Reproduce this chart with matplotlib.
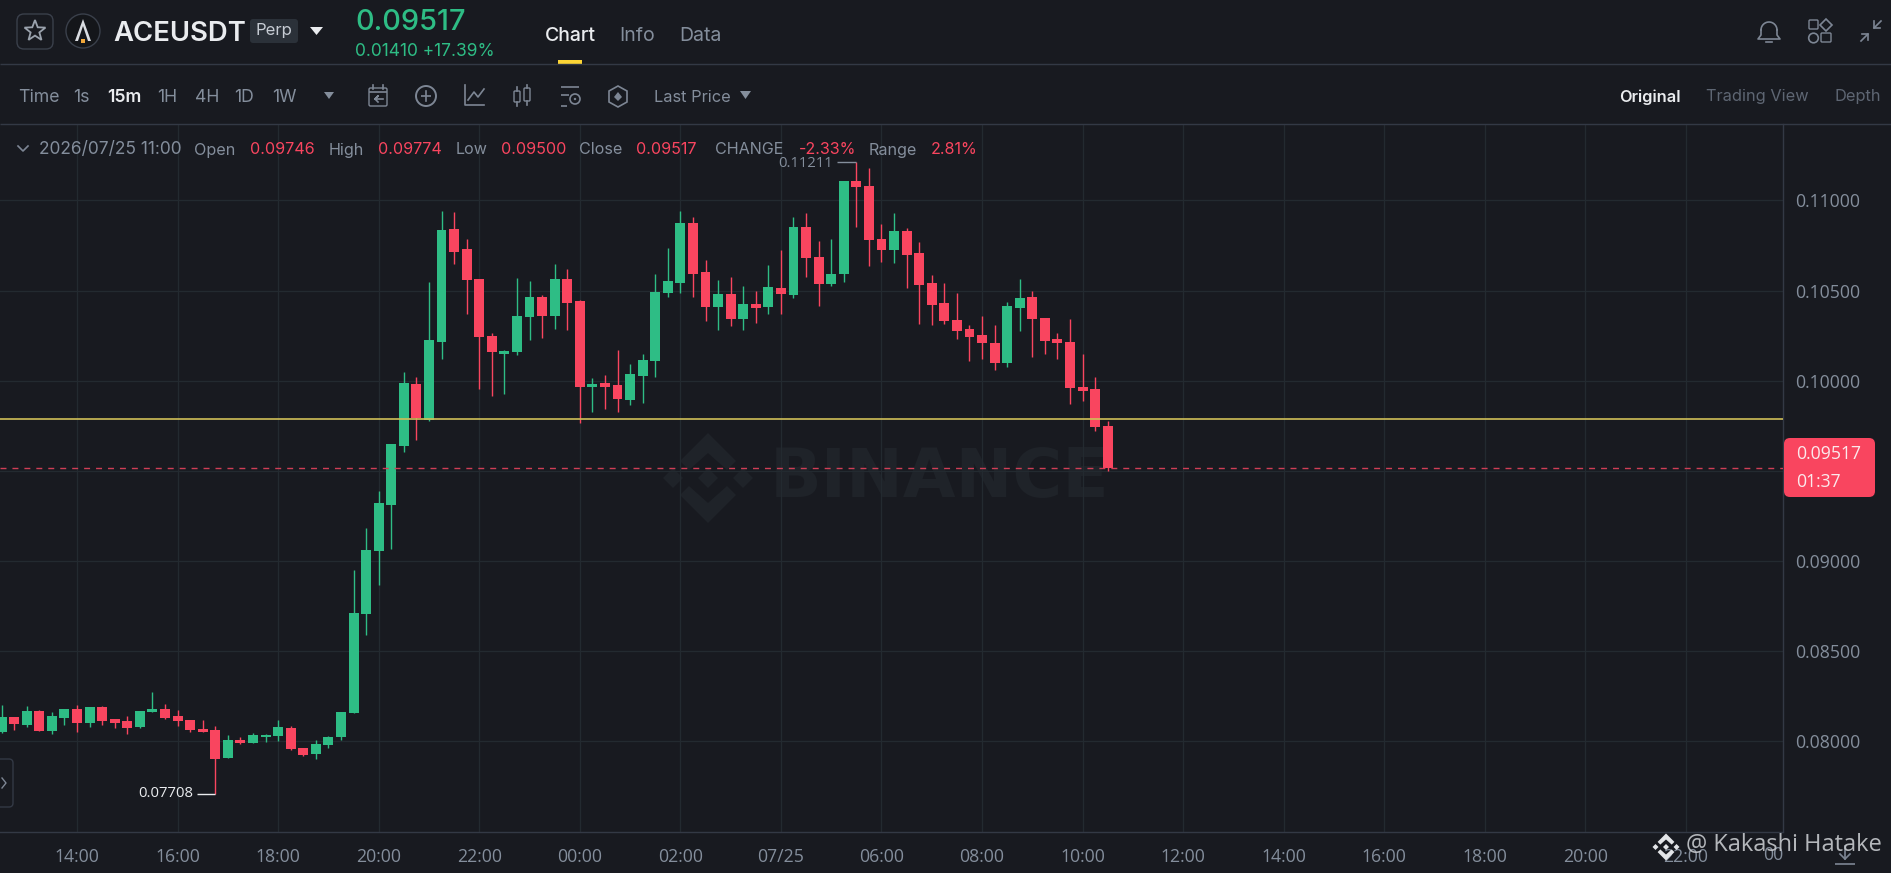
import numpy as np
import matplotlib
matplotlib.use("Agg")
import matplotlib.pyplot as plt
from matplotlib.patches import Circle, FancyBboxPatch, Polygon, Rectangle

W, H = 1891, 873
BG = "#181a20"
GRID = "#232a30"
BORDER = "#333945"
GREEN = "#2ebd85"
RED = "#f9455f"
GRAY = "#848e9c"
ICON = "#7d8694"
WHITE = "#eaecef"
YELLOW = "#cfbf58"
MARK = "#1f2329"
AXIS_FONT = ["Open Sans", "DejaVu Sans"]

plt.rcParams["font.family"] = ["Inter", "DejaVu Sans"]

# ---------------------------------------------------------------------------
# Data (15m candles, first one is 12:30)
# ---------------------------------------------------------------------------
opens = [
    0.08052, 0.08131, 0.08091, 0.08167, 0.08055, 0.08128, 0.08179, 0.08102, 0.08189, 0.08120,
    0.08111, 0.08076, 0.08159, 0.08176, 0.08139, 0.08118, 0.08067, 0.08061, 0.07904, 0.08006,
    0.07991, 0.08020, 0.08026, 0.08072, 0.07963, 0.07928, 0.07976, 0.08020, 0.08154, 0.08707,
    0.09055, 0.09310, 0.09639, 0.09981, 0.09782, 0.10216, 0.10840, 0.10729, 0.10564, 0.10248,
    0.10150, 0.10157, 0.10355, 0.10462, 0.10359, 0.10562, 0.10444, 0.09965, 0.09987, 0.09974,
    0.09891, 0.10028, 0.10107, 0.10485, 0.10540, 0.10873, 0.10603, 0.10411, 0.10481, 0.10342,
    0.10427, 0.10407, 0.10516, 0.10477, 0.10855, 0.10688, 0.10538, 0.10594, 0.11106, 0.11080,
    0.10788, 0.10725, 0.10832, 0.10707, 0.10540, 0.10429, 0.10337, 0.10285, 0.10251, 0.10211,
    0.10100, 0.10405, 0.10462, 0.10350, 0.10229, 0.10216, 0.09967, 0.09954, 0.09746,
]
highs = [
    0.08200, 0.08131, 0.08194, 0.08172, 0.08159, 0.08179, 0.08198, 0.08191, 0.08194, 0.08120,
    0.08141, 0.08167, 0.08274, 0.08205, 0.08170, 0.08118, 0.08115, 0.08083, 0.08031, 0.08020,
    0.08046, 0.08039, 0.08118, 0.08081, 0.07963, 0.08004, 0.08028, 0.08163, 0.08947, 0.09180,
    0.09388, 0.09647, 0.10050, 0.10022, 0.10546, 0.10940, 0.10938, 0.10784, 0.10564, 0.10266,
    0.10168, 0.10568, 0.10553, 0.10473, 0.10647, 0.10618, 0.10448, 0.10015, 0.10029, 0.10170,
    0.10094, 0.10150, 0.10592, 0.10736, 0.10940, 0.10908, 0.10670, 0.10559, 0.10573, 0.10523,
    0.10498, 0.10644, 0.10725, 0.10906, 0.10929, 0.10777, 0.10788, 0.11106, 0.11211, 0.11180,
    0.10869, 0.10930, 0.10847, 0.10771, 0.10588, 0.10540, 0.10486, 0.10309, 0.10357, 0.10307,
    0.10436, 0.10564, 0.10498, 0.10350, 0.10263, 0.10342, 0.10150, 0.10022, 0.09774,
]
lows = [
    0.08046, 0.08061, 0.08076, 0.08055, 0.08037, 0.08091, 0.08050, 0.08078, 0.08087, 0.08070,
    0.08039, 0.08072, 0.08159, 0.08122, 0.08085, 0.08052, 0.08050, 0.07708, 0.07904, 0.07985,
    0.07991, 0.07994, 0.08002, 0.07952, 0.07919, 0.07900, 0.07963, 0.08006, 0.08154, 0.08586,
    0.08866, 0.09064, 0.09604, 0.09671, 0.09778, 0.10118, 0.10649, 0.10368, 0.09955, 0.09917,
    0.09928, 0.10144, 0.10227, 0.10239, 0.10287, 0.10283, 0.09767, 0.09826, 0.09843, 0.09826,
    0.09863, 0.09876, 0.10022, 0.10462, 0.10486, 0.10466, 0.10329, 0.10279, 0.10305, 0.10281,
    0.10320, 0.10370, 0.10372, 0.10461, 0.10577, 0.10412, 0.10525, 0.10546, 0.10855, 0.10636,
    0.10658, 0.10655, 0.10514, 0.10316, 0.10309, 0.10316, 0.10233, 0.10107, 0.10122, 0.10059,
    0.10074, 0.10276, 0.10129, 0.10150, 0.10122, 0.09872, 0.09887, 0.09722, 0.09500,
]
closes = [
    0.08131, 0.08092, 0.08168, 0.08055, 0.08137, 0.08179, 0.08102, 0.08191, 0.08111, 0.08102,
    0.08072, 0.08167, 0.08176, 0.08130, 0.08113, 0.08059, 0.08050, 0.07902, 0.08004, 0.07989,
    0.08033, 0.08035, 0.08076, 0.07956, 0.07924, 0.07981, 0.08024, 0.08163, 0.08712, 0.09060,
    0.09323, 0.09647, 0.09987, 0.09793, 0.10224, 0.10836, 0.10716, 0.10560, 0.10244, 0.10161,
    0.10165, 0.10361, 0.10462, 0.10357, 0.10562, 0.10433, 0.09965, 0.09981, 0.09965, 0.09898,
    0.10035, 0.10116, 0.10494, 0.10551, 0.10873, 0.10590, 0.10409, 0.10481, 0.10342, 0.10425,
    0.10401, 0.10518, 0.10479, 0.10855, 0.10683, 0.10538, 0.10594, 0.11106, 0.11075, 0.10781,
    0.10725, 0.10832, 0.10695, 0.10533, 0.10420, 0.10331, 0.10276, 0.10244, 0.10209, 0.10100,
    0.10416, 0.10457, 0.10342, 0.10222, 0.10207, 0.09961, 0.09944, 0.09741, 0.09517,
]
time_labels = ["14:00", "16:00", "18:00", "20:00", "22:00", "00:00", "02:00", "07/25", "06:00",
               "08:00", "10:00", "12:00", "14:00", "16:00", "18:00", "20:00", "22:00"]
price_ticks = [0.08, 0.085, 0.09, 0.095, 0.10, 0.105, 0.11]
level_line = 0.09787
last_price = 0.09517
top_row = ["Time", "1s", "15m", "1H", "4H", "1D", "1W"]
top_row_x = [18, 73, 107, 157, 195, 234, 272]
info_row = [("2026/07/25 11:00", 39, GRAY), ("Open", 194, GRAY), ("0.09746", 250, RED),
            ("High", 329, GRAY), ("0.09774", 378, RED), ("Low", 456, GRAY), ("0.09500", 501, RED),
            ("Close", 579, GRAY), ("0.09517", 636, RED), ("CHANGE", 715, GRAY),
            ("-2.33%", 799, RED), ("Range", 869, GRAY), ("2.81%", 931, RED)]

# ---------------------------------------------------------------------------
# Figure + axes: back layer (watermark), chart, front layer (page chrome)
# ---------------------------------------------------------------------------
fig = plt.figure(figsize=(W / 100, H / 100), dpi=100, facecolor=BG)


def pixel_axes(zorder):
    a = fig.add_axes([0, 0, 1, 1], zorder=zorder)
    a.set_xlim(0, W)
    a.set_ylim(H, 0)
    a.axis("off")
    return a


back = pixel_axes(0)
top = pixel_axes(5)

CHART_L, CHART_R, CHART_T, CHART_B = 0, 1783, 124, 831.5
ax = fig.add_axes([CHART_L / W, 1 - CHART_B / H, (CHART_R - CHART_L) / W, (CHART_B - CHART_T) / H], zorder=2)
ax.patch.set_alpha(0)

STEP, X0 = 12.57, 1.58
ax.set_xlim((CHART_L - X0) / STEP, (CHART_R - X0) / STEP)
ax.set_ylim(0.08 + (741 - CHART_B) / 18020, 0.08 + (741 - CHART_T) / 18020)

# ---------------------------------------------------------------------------
# Candles
# ---------------------------------------------------------------------------
o, h, l, c = map(np.array, (opens, highs, lows, closes))
xs = np.arange(len(o))
colors = np.where(c >= o, GREEN, RED)
ax.vlines(xs, l, h, colors=colors, linewidth=1.0, zorder=3)
ax.bar(xs, np.abs(c - o), bottom=np.minimum(o, c), width=0.79, color=colors, linewidth=0, zorder=3)

ax.axhline(level_line, color=YELLOW, linewidth=1.2, zorder=4)
ax.axhline(last_price, color="#cf3e56", linewidth=1.0, linestyle=(0, (4.3, 4.3)), zorder=4)

# axes
tick_pos = 6 + 8 * np.arange(len(time_labels))
ax.set_xticks(tick_pos, time_labels, family=AXIS_FONT)
ax.set_yticks(price_ticks, [f"{p:.5f}" for p in price_ticks], family=AXIS_FONT)
ax.yaxis.tick_right()
ax.tick_params(axis="x", length=0, pad=12, labelsize=12.7, labelcolor=GRAY)
ax.tick_params(axis="y", length=0, pad=8.5, labelsize=12.7, labelcolor=GRAY)
ax.grid(True, color=GRID, linewidth=0.9, zorder=1)
ax.set_axisbelow(True)
for side, spine in ax.spines.items():
    spine.set_visible(side in ("bottom", "right"))
    spine.set_color(BORDER)
    spine.set_linewidth(1.0)

# high / low callouts
i_hi, i_lo = int(np.argmax(h)), int(np.argmin(l))
ax.annotate(f"{h[i_hi]:.5f}", (i_hi, h[i_hi]), xytext=(-23, -1), textcoords="offset pixels",
            color=GRAY, fontsize=10.7, ha="right", va="center", zorder=4, family=AXIS_FONT)
ax.annotate(f"{l[i_lo]:.5f}", (i_lo, l[i_lo]), xytext=(-22, 0), textcoords="offset pixels",
            color=WHITE, fontsize=10.7, ha="right", va="center", zorder=4, family=AXIS_FONT)
ax.hlines(h[i_hi], i_hi - 1.5, i_hi, color=GRAY, linewidth=1.0, zorder=4)
ax.hlines(l[i_lo], i_lo - 1.45, i_lo, color=WHITE, linewidth=1.0, zorder=4)


# ---------------------------------------------------------------------------
# Watermark
# ---------------------------------------------------------------------------
def binance_logo(a, cx, cy, s, color, zorder=1):
    """Binance diamond logo, s=1 is 90 px tall."""
    for dx in (-35, 0, 35):
        a.add_patch(Polygon([(cx + dx * s - 10 * s, cy), (cx + dx * s, cy - 10 * s),
                             (cx + dx * s + 10 * s, cy), (cx + dx * s, cy + 10 * s)],
                            color=color, lw=0, zorder=zorder))
    for sign in (-1, 1):
        pts = [(0, 45), (28, 17), (19, 8), (0, 25), (-19, 8), (-28, 17)]
        a.add_patch(Polygon([(cx + px * s, cy + sign * py * s) for px, py in pts],
                            color=color, lw=0, zorder=zorder))


binance_logo(back, 708, 478, 1, MARK)
back.text(770, 478, "BINANCE", color=MARK, fontsize=49, fontweight="bold", va="center", ha="left",
          family="DejaVu Sans")


# ---------------------------------------------------------------------------
# Page chrome
# ---------------------------------------------------------------------------
def txt(x, y, s, size=11, color=GRAY, ha="left", weight="normal", family=None):
    top.text(x, y, s, fontsize=size, color=color, ha=ha, va="center", fontweight=weight,
             family=family or ["Inter", "DejaVu Sans"])


def hline(x0, x1, y, color=ICON, lw=1.2):
    top.plot([x0, x1], [y, y], color=color, lw=lw, solid_capstyle="butt")


def poly(pts, color=ICON, fill=False, lw=1.2):
    top.add_patch(Polygon(pts, closed=True, fill=fill, facecolor=color if fill else "none",
                          edgecolor=color, lw=lw if not fill else 0))


def rbox(x0, y0, x1, y1, r, fc="none", ec=ICON, lw=1.0, a=None):
    (a or top).add_patch(FancyBboxPatch((x0 + r, y0 + r), x1 - x0 - 2 * r, y1 - y0 - 2 * r,
                                        boxstyle=f"round,pad={r}", fc=fc, ec=ec, lw=lw))


hline(0, W, 64, BORDER, 1.0)
hline(0, W, 124, BORDER, 1.0)

# title bar
rbox(17, 14, 53, 49, 7, ec="#3a404b")
star = [(35 + r * np.sin(t), 31 - r * np.cos(t)) for t, r in zip(np.arange(10) * np.pi / 5, [11, 4.6] * 5)]
poly(star, "#9aa2ad", lw=1.3)
top.add_patch(Circle((83, 31), 17, fc="#14161a", ec="#3a404b", lw=1))
poly([(83, 19), (75, 41), (78, 41), (83, 26), (88, 41), (91, 41)], "#d9dce1", fill=True)
poly([(81, 39), (85, 39), (85, 43), (81, 43)], "#f0a73a", fill=True)
txt(113, 34, "ACEUSDT", 19.8, WHITE, weight="semibold")
rbox(250, 19, 298, 43, 3, fc="#2b3139", ec="none")
txt(274, 31, "Perp", 12, "#c7ccd4", ha="center")
poly([(310, 27), (323, 27), (316.5, 35)], WHITE, fill=True)
txt(355, 23, "0.09517", 20.8, GREEN, weight="medium")
txt(355, 52, "0.01410 +17.39%", 12.5, GREEN)
txt(545, 36, "Chart", 14, WHITE, weight="medium")
top.add_patch(Rectangle((558, 60), 24, 4, color="#fcd535", lw=0))
txt(619, 36, "Info", 14, GRAY)
txt(679, 36, "Data", 14, GRAY)

# bell, layout and collapse icons
top.plot(1769 + 8 * np.cos(np.linspace(0, np.pi, 20)), 30 - 8 * np.sin(np.linspace(0, np.pi, 20)), color=ICON, lw=1.2)
top.plot([1761, 1761, 1758, 1780, 1777, 1777], [30, 35, 39, 39, 35, 30], color=ICON, lw=1.2)
top.plot([1766, 1772], [42, 42], color=ICON, lw=1.2)
rbox(1809, 20, 1818, 29, 1)
poly([(1826, 19), (1832, 25), (1826, 31), (1820, 25)])
top.add_patch(Circle((1813.5, 38), 4.8, fc="none", ec=ICON, lw=1.2))
rbox(1821, 33, 1831, 42, 1)
top.plot([1881, 1874], [21, 28], color=ICON, lw=1.2)
top.plot([1874, 1874, 1880], [21, 28, 28], color=ICON, lw=1.2)
top.plot([1861, 1868], [41, 34], color=ICON, lw=1.2)
top.plot([1862, 1868, 1868], [34, 34, 40], color=ICON, lw=1.2)

# toolbar
for s, x in zip(top_row, top_row_x):
    txt(x, 97, s, 12.7, WHITE if s == "15m" else GRAY, weight="semibold" if s == "15m" else "normal")
poly([(324, 92), (334, 92), (329, 99)], GRAY, fill=True)
rbox(369, 88, 387, 106, 1.5)
hline(369, 387, 92)
top.plot([373, 373], [85, 89], color=ICON, lw=1.2)
top.plot([383, 383], [85, 89], color=ICON, lw=1.2)
top.plot([383, 375, 378, 375, 378], [99, 99, 96, 99, 102], color=ICON, lw=1.2)
top.add_patch(Circle((426, 96), 10, fc="none", ec=ICON, lw=1.4))
hline(421, 431, 96)
top.plot([426, 426], [91, 101], color=ICON, lw=1.2)
top.plot([465, 465, 484], [85, 105, 105], color=ICON, lw=1.2)
top.plot([468, 474, 478, 484], [100, 92, 97, 89], color=ICON, lw=1.2)
for bx, y0, y1, t0, t1 in [(517, 91, 102, 87, 106), (527, 88, 101, 85, 105)]:
    rbox(bx - 3, y0, bx + 3, y1, 1)
    top.plot([bx, bx], [t0, y0], color=ICON, lw=1.2)
    top.plot([bx, bx], [y1, t1], color=ICON, lw=1.2)
hline(561, 579, 87)
hline(561, 569, 95)
hline(561, 567, 106)
top.add_patch(Circle((575, 99), 5, fc="none", ec=ICON, lw=1.2))
top.add_patch(Circle((575, 99), 1.2, fc=ICON, ec="none"))
poly([(618, 86), (627, 91), (627, 102), (618, 107), (609, 102), (609, 91)], lw=1.2)
poly([(618, 92), (622, 97), (618, 101), (614, 97)], ICON, fill=True)
txt(654, 97, "Last Price", 11.8, GRAY)
poly([(740, 91), (751, 91), (745.5, 99)], GRAY, fill=True)
txt(1619, 97, "Original", 11.8, WHITE, weight="semibold")
txt(1706, 97, "Trading View", 11.8, "#5e6673")
txt(1835, 97, "Depth", 11.8, "#5e6673")

# OHLC row
top.plot([18, 23, 28], [146, 151, 146], color=ICON, lw=1.2)
for s, x, col in info_row:
    txt(x, 150, s, 12.5 if x == 39 else 11.6, col)

# collapse tab on the left
rbox(-6, 759, 13, 807, 4, ec="#333945")
top.plot([2, 6, 2], [778, 783, 788], color=ICON, lw=1)

# last price tag
rbox(1784, 438, 1875, 497, 6, fc=RED, ec="none")
txt(1796, 454, f"{last_price:.5f}", 12.7, "#fbe9ec", weight="medium", family=AXIS_FONT)
txt(1796, 482, "01:37", 12.7, "#fbe9ec", weight="medium", family=AXIS_FONT)

# last, cut off time label
txt(1783, 855, "00", 12.7, GRAY, ha="right", family=AXIS_FONT)

# download icon + reposter watermark
top.plot([1845, 1845], [846, 859], color=ICON, lw=1.2)
top.plot([1840, 1845, 1850], [854, 859, 854], color=ICON, lw=1.2)
hline(1835, 1855, 864)
binance_logo(top, 1666, 847, 0.3, "#e3e5e8", zorder=6)
top.text(1686, 845, "@ Kakashi Hatake", color="#c6c9cd", fontsize=17, va="center", ha="left",
         family="Open Sans", zorder=6, alpha=0.9)

fig.savefig("out.png", dpi=100, facecolor=BG)
